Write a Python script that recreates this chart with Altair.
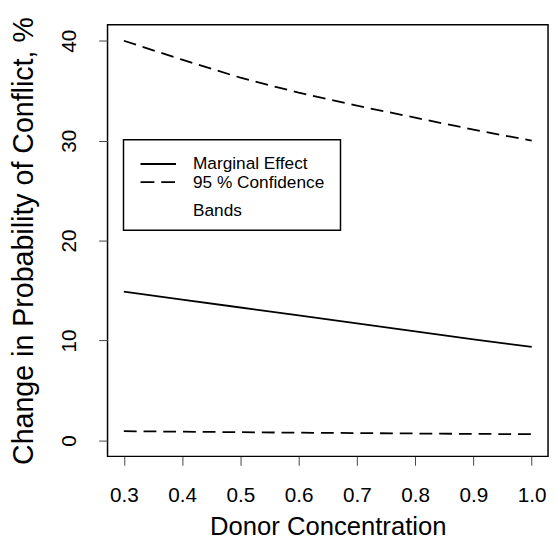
import altair as alt
import pandas as pd

# ---- data ----
donor = [0.3, 0.4, 0.5, 0.6, 0.7, 0.8, 0.9, 1.0]
marginal = [14.9, 14.1, 13.3, 12.5, 11.7, 10.9, 10.1, 9.35]
upper_band = [40.0, 38.1, 36.3, 34.8, 33.5, 32.3, 31.1, 30.0]
lower_band = [0.92, 0.87, 0.82, 0.77, 0.73, 0.69, 0.65, 0.62]

x_ticks = [0.3, 0.4, 0.5, 0.6, 0.7, 0.8, 0.9, 1.0]
y_ticks = [0, 10, 20, 30, 40]
legend_labels = ["Marginal Effect", "95 % Confidence", "Bands"]

FONT = "Liberation Sans"

me_df = pd.DataFrame({"x": donor, "y": marginal})
band_df = pd.DataFrame({
    "x": donor + donor,
    "y": upper_band + lower_band,
    "band": ["upper"] * len(donor) + ["lower"] * len(donor),
})

x_scale = alt.Scale(domain=[0.272, 1.028], nice=False, zero=False)
y_scale = alt.Scale(domain=[-1.6, 41.6], nice=False, zero=False)

x_axis = alt.Axis(
    values=x_ticks, format=".1f", title="Donor Concentration",
    tickSize=9, tickColor="#444", tickWidth=1, domain=False, grid=False,
    labelFontSize=21, labelFont=FONT, labelColor="black", labelPadding=20,
    labelBaseline="top", labelFlush=False, labelOverlap=False,
    titleFontSize=26, titleFont=FONT, titleFontWeight="normal", titleColor="black",
    titleBaseline="alphabetic", titleY=79, titleX=223.5,
)
y_axis = alt.Axis(
    values=y_ticks, format="d", title="Change in Probability of Conflict, %",
    tickSize=9, tickColor="#444", tickWidth=1, domain=False, grid=False,
    labelFontSize=21, labelFont=FONT, labelColor="black", labelPadding=24,
    labelAngle=270, labelAlign="center", labelBaseline="alphabetic",
    labelFlush=False, labelOverlap=False,
    titleFontSize=29, titleFont=FONT, titleFontWeight="normal", titleColor="black",
    titleAngle=270, titleBaseline="alphabetic", titleAlign="center",
    titleX=-76, titleY=219,
)

me_line = alt.Chart(me_df).mark_line(color="black", strokeWidth=1.8).encode(
    x=alt.X("x:Q", scale=x_scale, axis=x_axis),
    y=alt.Y("y:Q", scale=y_scale, axis=y_axis),
)
band_lines = alt.Chart(band_df).mark_line(
    color="black", strokeWidth=1.8, strokeDash=[13, 7]
).encode(
    x=alt.X("x:Q", scale=x_scale),
    y=alt.Y("y:Q", scale=y_scale),
    detail="band:N",
)

one = alt.Data(values=[{}])
legend_box = alt.Chart(one).mark_rect(
    fill="white", stroke="black", strokeWidth=1.5
).encode(
    x=alt.value(16.2), x2=alt.value(236.4), y=alt.value(116.6), y2=alt.value(208.6)
)
legend_solid = alt.Chart(one).mark_rule(color="black", strokeWidth=1.8).encode(
    x=alt.value(33.5), x2=alt.value(69.5), y=alt.value(141.3)
)
legend_dash = alt.Chart(one).mark_rule(
    color="black", strokeWidth=1.8, strokeDash=[14, 7]
).encode(
    x=alt.value(33.5), x2=alt.value(69.5), y=alt.value(159.8)
)
legend_ys = [141.3, 160.3, 189.3]
legend_texts = [
    alt.Chart(one).mark_text(
        align="left", baseline="middle", fontSize=17.5, font=FONT, color="black"
    ).encode(x=alt.value(86.7), y=alt.value(yy), text=alt.value(lbl))
    for lbl, yy in zip(legend_labels, legend_ys)
]

chart = alt.layer(
    band_lines, me_line, legend_box, legend_solid, legend_dash, *legend_texts
).properties(
    width=447, height=438,
    autosize=alt.AutoSizeParams(type="none"),
    padding={"left": 101, "top": 13, "right": 2, "bottom": 90},
    background="white",
).configure_view(
    stroke="black", strokeWidth=1.5
)

chart.save("out.html", embed_options={"renderer": "svg", "actions": False})
